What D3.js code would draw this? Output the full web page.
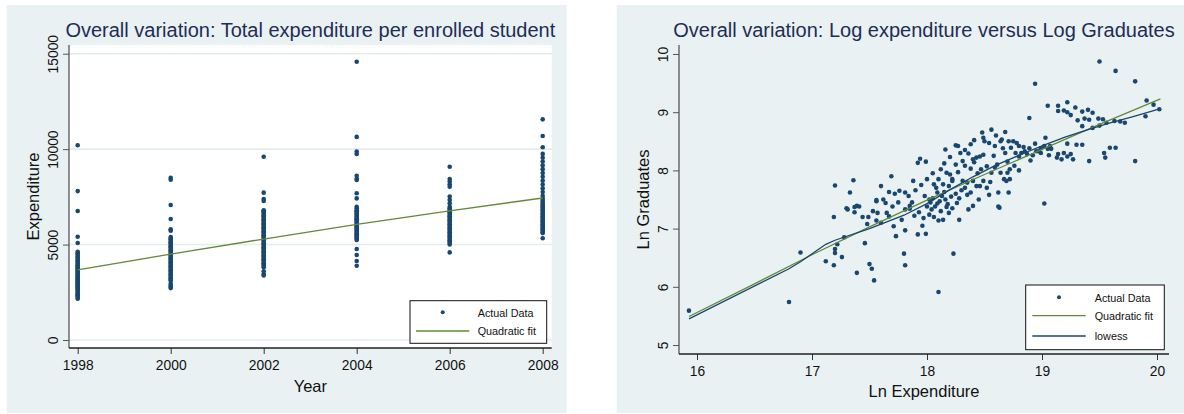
<!DOCTYPE html>
<html>
<head>
<meta charset="utf-8">
<script src="https://cdn.jsdelivr.net/npm/d3@7"></script>
<style>
  html, body { margin: 0; padding: 0; background: #ffffff; }
  svg { display: block; font-family: "Liberation Sans", Arial, sans-serif; }
</style>
</head>
<body>
<svg id="chart" width="1184" height="414"></svg>
<script>
// ---------- Panel 1: expenditure per enrolled student by year ----------
const years = [1998, 2000, 2002, 2004, 2006, 2008];
const yTicksSpend = [0, 5000, 10000, 15000];

const spend1998 = [10200, 7800, 6760, 5410, 5080, 4620, 4550, 4480, 4400, 4330, 4250, 4180, 4100, 4050, 3980,
  3920, 3860, 3800, 3740, 3690, 3640, 3580, 3520, 3470, 3420, 3370, 3320, 3270, 3220, 3170, 3120, 3070, 3020,
  2970, 2920, 2870, 2820, 2760, 2700, 2640, 2580, 2520, 2460, 2400, 2340, 2280, 2220, 2160];
const spend2000 = [8500, 8400, 7070, 6340, 5800, 5720, 5400, 5330, 5260, 5190, 5120, 5050, 4980, 4910, 4840,
  4770, 4700, 4630, 4560, 4490, 4420, 4350, 4280, 4210, 4140, 4070, 4000, 3930, 3860, 3790, 3720, 3650, 3580,
  3510, 3440, 3370, 3300, 3230, 3160, 3100, 2950, 2850, 2780, 2720];
const spend2002 = [9600, 7720, 7390, 7280, 6800, 6750, 6680, 6610, 6540, 6470, 6400, 6330, 6260, 6190, 6120,
  6050, 5980, 5910, 5840, 5770, 5700, 5630, 5560, 5490, 5420, 5350, 5280, 5210, 5140, 5070, 5000, 4930, 4860,
  4790, 4720, 4650, 4580, 4510, 4440, 4370, 4300, 4230, 4160, 4090, 4020, 3950, 3880, 3810, 3600, 3450, 3380];
const spend2004 = [14580, 10640, 9870, 9750, 8600, 8450, 8380, 7690, 7420, 6980, 6900, 6800, 6740, 6680, 6620,
  6560, 6500, 6440, 6380, 6320, 6260, 6200, 6140, 6080, 6020, 5960, 5900, 5840, 5780, 5720, 5660, 5600, 5540,
  5480, 5420, 5360, 5300, 5240, 4770, 4450, 4140, 3890];
const spend2006 = [9080, 8430, 8300, 8160, 8030, 7520, 7340, 7160, 6980, 6900, 6830,
  6760, 6690, 6620, 6550, 6480, 6410, 6340, 6270, 6200, 6130, 6060, 5990, 5920, 5850, 5780, 5710, 5640, 5570,
  5500, 5430, 5360, 5290, 5220, 5150, 5080, 5000, 4590];
const spend2008 = [11560, 10690, 10100, 9750, 9550, 9350, 9150, 8950, 8750, 8550, 8350, 8150, 7950, 7750,
  7550, 7400, 7300, 7200, 7120, 7050, 6980, 6910, 6840, 6770, 6700, 6630, 6560,
  6490, 6420, 6350, 6280, 6210, 6140, 6070, 6000, 5930, 5860, 5790, 5720, 5650, 5600, 5330];
const spendByYear = [spend1998, spend2000, spend2002, spend2004, spend2006, spend2008];

// Quadratic fit evaluated at each survey year
const spendFit = [3670, 4500, 5290, 6060, 6770, 7440];

// ---------- Panel 2: log expenditure vs log graduates ----------
const yTicksGrad = [5, 6, 7, 8, 9, 10];
const xTicksExp = [16, 17, 18, 19, 20];

const lnExpenditure = [15.93, 16.80, 16.90, 17.12, 17.19, 17.20, 17.20, 17.22, 17.26, 17.28, 17.19, 17.31, 17.37,
  17.41, 17.37, 17.39, 17.46, 17.50, 17.52, 17.54, 17.48, 17.49, 17.56, 17.57, 17.56, 17.60, 17.65, 17.67, 17.71,
  17.73, 17.78, 17.81, 17.85, 17.80, 17.81, 17.81, 17.92, 17.96, 17.99, 18.00, 18.04, 18.07, 18.09, 18.10, 18.23,
  18.10, 18.14, 18.19, 18.22, 18.28, 18.36, 18.40, 18.62, 19.02, 17.20, 17.33, 17.36, 17.39, 17.30, 17.56, 17.60,
  17.62, 17.67, 17.72, 17.76, 17.81, 17.69, 17.84, 17.87, 17.85, 17.92, 17.94, 17.99, 17.98, 18.02, 18.09, 18.13,
  18.15, 18.06, 18.08, 18.14, 18.19, 18.22, 18.16, 18.20, 18.25, 18.27, 18.31, 18.29, 18.17, 18.20, 18.22, 18.27,
  18.31, 18.35, 18.40, 18.43, 18.46, 18.49, 18.36, 18.40, 18.41, 18.43, 18.46, 18.49, 18.41, 18.49, 18.50, 18.54,
  18.56, 18.59, 18.64, 18.65, 18.52, 18.56, 18.59, 18.61, 18.64, 18.67, 18.69, 18.72, 18.70, 18.72, 18.62, 18.71,
  18.52, 18.54, 18.63, 18.71, 18.75, 18.78, 18.73, 18.77, 18.80, 18.82, 18.85, 18.87, 18.90, 18.92, 18.95, 18.97,
  18.99, 19.02, 19.03, 19.05, 19.06, 19.07, 19.08, 18.89, 18.94, 18.80, 18.84, 18.89, 18.94, 18.99, 19.13, 19.14,
  19.17, 19.19, 19.22, 19.25, 19.27, 19.22, 19.30, 19.35, 19.05, 19.14, 19.22, 19.14, 19.19, 19.22, 19.29, 19.35,
  19.40, 19.44, 19.25, 19.31, 19.37, 19.41, 19.49, 19.53, 19.56, 19.63, 19.68, 19.72, 19.35, 19.44, 19.50, 19.59,
  19.64, 19.81, 19.41, 19.54, 19.55, 19.50, 19.64, 19.81, 19.91, 19.97, 20.02, 19.90,
  18.03, 18.05, 18.11, 18.16, 18.18, 18.21, 18.25, 18.28, 18.30, 18.33, 18.35, 18.38, 18.44, 18.47, 18.38, 18.33,
  18.25, 18.12, 18.05, 18.00, 17.95, 17.90, 17.88, 17.75, 17.70, 17.64, 17.93, 17.89, 17.97, 18.02, 18.06, 18.12,
  18.17, 18.26, 18.45, 18.55, 18.58, 18.68, 18.70, 18.76, 18.80, 18.66, 18.60, 18.68, 18.48, 18.38, 18.10, 18.15,
  18.33, 17.53, 17.44];
const lnGraduates = [5.59, 5.74, 6.59, 6.44, 6.37, 6.65, 6.58, 6.73, 6.51, 6.85, 7.20, 7.33, 7.28,
  7.38, 7.37, 6.24, 6.75, 6.39, 6.31, 6.11, 7.08, 7.20, 7.14, 7.27, 7.47, 7.10, 7.27, 7.21, 7.04,
  6.87, 7.15, 7.33, 7.34, 6.57, 6.37, 6.97, 6.90, 7.05, 6.91, 7.38, 7.33, 7.38, 7.43, 5.91, 6.57,
  7.14, 7.15, 7.27, 7.35, 7.15, 7.33, 7.39, 7.38, 7.43, 7.74, 7.62, 7.83, 7.39, 7.35, 7.49, 7.73,
  7.50, 7.63, 7.60, 7.65, 7.62, 7.90, 7.56, 7.45, 7.39, 8.13, 8.20, 8.15, 7.56, 7.50, 7.62, 7.56,
  7.63, 7.76, 7.70, 7.76, 7.73, 7.82, 8.36, 8.23, 8.43, 8.42, 8.16, 8.30, 7.96, 7.93, 7.85, 7.97,
  7.82, 7.79, 7.82, 7.73, 7.73, 7.82, 8.29, 8.19, 8.14, 8.22, 8.24, 8.27, 8.52, 8.56, 8.50, 8.47,
  8.70, 8.42, 8.50, 8.53, 8.07, 7.96, 8.05, 8.10, 7.96, 7.85, 7.82, 7.85, 7.96, 8.02, 7.62, 7.62,
  7.70, 7.58, 7.36, 8.50, 8.50, 8.47, 8.39, 8.30, 8.24, 8.30, 8.33, 8.28, 8.17, 8.26, 8.33, 8.33,
  8.30, 8.42, 8.56, 8.37, 8.26, 8.42, 8.37, 8.90, 9.49, 8.42, 8.40, 8.38, 8.46, 8.38, 8.22, 8.28,
  8.19, 8.30, 8.24, 8.28, 8.19, 8.46, 8.44, 8.44, 9.11, 9.11, 9.17, 9.02, 9.03, 9.00, 9.08, 9.01,
  9.04, 8.99, 8.95, 8.86, 8.89, 8.87, 8.89, 8.88, 8.82, 8.85, 8.84, 8.82, 8.76, 8.73, 8.77, 8.39,
  8.39, 8.16, 8.16, 8.30, 8.22, 9.87, 9.71, 9.53, 9.20, 9.13, 9.05, 8.93,
  7.45, 7.52, 7.47, 7.50, 7.42, 7.55, 7.60, 7.52, 7.66, 7.70, 7.58, 7.62, 7.95, 8.02, 8.03, 8.08,
  8.10, 8.02, 7.95, 7.85, 7.75, 7.66, 7.82, 7.45, 7.38, 7.44, 7.28, 7.22, 7.18, 7.24, 7.20, 7.30,
  7.37, 7.44, 7.50, 7.80, 8.25, 8.30, 8.15, 8.08, 8.00, 8.38, 8.60, 8.66, 8.65, 8.45, 7.85, 8.12,
  8.35, 7.30, 7.20];

// Quadratic fit and lowess smooth, sampled along log expenditure
const fitLnExp = [15.93, 16.5, 17.0, 17.5, 18.0, 18.5, 19.0, 19.5, 20.03];
const fitLnGrad = [5.49, 6.05, 6.55, 7.03, 7.49, 7.93, 8.36, 8.79, 9.23];
const lowessLnExp = [15.93, 16.8, 16.9, 17.12, 17.2, 17.5, 17.8, 18.0, 18.2, 18.4, 18.6, 18.8, 19.0, 19.2, 19.4, 19.6, 19.8, 20.03];
const lowessLnGrad = [5.45, 6.31, 6.43, 6.73, 6.80, 7.00, 7.23, 7.43, 7.67, 7.89, 8.09, 8.26, 8.42, 8.57, 8.70, 8.82, 8.93, 9.06];

// ---------- styling ----------
const BG = "#eaf1f3";
const NAVY = "#1a476f";
const GREEN = "#62893a";
const TITLE = "#1e2d55";

const svg = d3.select("#chart");

function drawPanel(cfg) {
  const g = svg.append("g");
  g.append("rect").attr("x", cfg.outer[0]).attr("y", cfg.outer[1])
    .attr("width", cfg.outer[2]).attr("height", cfg.outer[3]).attr("fill", BG);

  const [L, T, R, B] = cfg.plot;
  if (cfg.plotFill) {
    g.append("rect").attr("x", L).attr("y", T).attr("width", R - L).attr("height", B - T)
      .attr("fill", cfg.plotFill);
  }
  const x = d3.scaleLinear().domain(cfg.xDomain).range(cfg.xRange);
  const y = d3.scaleLinear().domain(cfg.yDomain).range(cfg.yRange);

  // horizontal grid
  if (cfg.grid) {
    g.append("g").selectAll("line").data(cfg.yTicks).join("line")
      .attr("x1", L).attr("x2", R).attr("y1", d => y(d)).attr("y2", d => y(d))
      .attr("stroke", "#e3ecef").attr("stroke-width", 1.6);
  }

  // title
  g.append("text").attr("x", (L + R) / 2).attr("y", 37).attr("text-anchor", "middle")
    .attr("fill", TITLE).attr("font-size", cfg.titleSize).text(cfg.title);

  // y axis
  const yAxis = g.append("g").attr("transform", `translate(${L},0)`)
    .call(d3.axisLeft(y).tickValues(cfg.yTicks).tickSize(6).tickSizeOuter(0).tickFormat(d3.format("d")));
  yAxis.select(".domain").remove();
  yAxis.selectAll(".tick line").attr("stroke", "#555");
  yAxis.selectAll(".tick text")
    .attr("transform", "rotate(-90)").attr("x", 0).attr("y", -11.3).attr("dy", 0)
    .attr("text-anchor", "middle").attr("fill", "#111").attr("font-size", 13.8)
    .attr("font-family", "Liberation Sans, Arial, sans-serif");
  g.append("line").attr("x1", L).attr("x2", L).attr("y1", T).attr("y2", B)
    .attr("stroke", "#555").attr("stroke-width", 1.3);

  // x axis
  const xAxis = g.append("g").attr("transform", `translate(0,${B})`)
    .call(d3.axisBottom(x).tickValues(cfg.xTicks).tickSize(6).tickSizeOuter(0).tickFormat(d3.format("d")));
  xAxis.select(".domain").remove();
  xAxis.selectAll(".tick line").attr("stroke", "#333");
  xAxis.selectAll(".tick text").attr("y", 22).attr("dy", 0).attr("fill", "#111")
    .attr("font-size", 13.8).attr("font-family", "Liberation Sans, Arial, sans-serif");
  g.append("line").attr("x1", L).attr("x2", R).attr("y1", B).attr("y2", B)
    .attr("stroke", "#222").attr("stroke-width", 1.3);

  // axis titles
  g.append("text").attr("transform", `translate(${cfg.yTitleX},${(T + B) / 2}) rotate(-90)`)
    .attr("text-anchor", "middle").attr("font-size", 16.5).attr("fill", "#111").text(cfg.yTitle);
  g.append("text").attr("x", (L + R) / 2).attr("y", cfg.xTitleY).attr("text-anchor", "middle")
    .attr("font-size", 16.5).attr("fill", "#111").text(cfg.xTitle);

  return { g, x, y };
}

// ----- left panel -----
const p1 = drawPanel({
  outer: [6.7, 5, 560, 408], plot: [69, 45, 551.7, 348], plotFill: "#ffffff", grid: true,
  xDomain: [1998, 2008], xRange: [77.7, 542.7], yDomain: [0, 15000], yRange: [340, 53.7],
  xTicks: years, yTicks: yTicksSpend,
  title: "Overall variation: Total expenditure per enrolled student", titleSize: 20,
  yTitle: "Expenditure", yTitleX: 38.5, xTitle: "Year", xTitleY: 392
});

const spendPoints = years.flatMap((yr, i) => spendByYear[i].map(v => ({ yr, v })));
p1.g.append("g").selectAll("circle").data(spendPoints).join("circle")
  .attr("cx", d => p1.x(d.yr)).attr("cy", d => p1.y(d.v)).attr("r", 2.3).attr("fill", NAVY);

p1.g.append("path").datum(years.map((yr, i) => [yr, spendFit[i]]))
  .attr("d", d3.line().x(d => p1.x(d[0])).y(d => p1.y(d[1])))
  .attr("fill", "none").attr("stroke", GREEN).attr("stroke-width", 1.3);

// ----- right panel -----
const p2 = drawPanel({
  outer: [616.7, 5, 567.3, 408], plot: [679, 45, 1169, 354], plotFill: null, grid: false,
  xDomain: [16, 20], xRange: [697, 1157], yDomain: [5, 10], yRange: [345, 54],
  xTicks: xTicksExp, yTicks: yTicksGrad,
  title: "Overall variation: Log expenditure versus Log Graduates", titleSize: 20,
  yTitle: "Ln Graduates", yTitleX: 649, xTitle: "Ln Expenditure", xTitleY: 397
});

p2.g.append("g").selectAll("circle").data(lnExpenditure.map((v, i) => [v, lnGraduates[i]])).join("circle")
  .attr("cx", d => p2.x(d[0])).attr("cy", d => p2.y(d[1])).attr("r", 2.3).attr("fill", NAVY);

const line2 = d3.line().x(d => p2.x(d[0])).y(d => p2.y(d[1]));
p2.g.append("path").datum(fitLnExp.map((v, i) => [v, fitLnGrad[i]])).attr("d", line2)
  .attr("fill", "none").attr("stroke", GREEN).attr("stroke-width", 1.3);
p2.g.append("path").datum(lowessLnExp.map((v, i) => [v, lowessLnGrad[i]])).attr("d", line2)
  .attr("fill", "none").attr("stroke", NAVY).attr("stroke-width", 1.3);

// ----- legends -----
function legend(box, items) {
  const [x0, y0, w, h] = box;
  const g = svg.append("g");
  g.append("rect").attr("x", x0).attr("y", y0).attr("width", w).attr("height", h)
    .attr("fill", "#ffffff").attr("stroke", "#111").attr("stroke-width", 1);
  items.forEach(it => {
    if (it.kind === "dot") {
      g.append("circle").attr("cx", it.sx).attr("cy", it.sy).attr("r", 2).attr("fill", NAVY);
    } else {
      g.append("line").attr("x1", it.sx).attr("x2", it.sx2).attr("y1", it.sy).attr("y2", it.sy)
        .attr("stroke", it.color).attr("stroke-width", 1.3);
    }
    g.append("text").attr("x", it.tx).attr("y", it.ty).attr("font-size", 10.8).attr("fill", "#111").text(it.label);
  });
}

legend([410, 300.7, 136.7, 42.6], [
  { kind: "dot", sx: 442.7, sy: 312.3, tx: 477.7, ty: 316.5, label: "Actual Data" },
  { kind: "line", sx: 416, sx2: 469.3, sy: 331, color: GREEN, tx: 477.7, ty: 335, label: "Quadratic fit" }
]);
legend([1025.7, 285, 138.6, 64.7], [
  { kind: "dot", sx: 1059, sy: 297.3, tx: 1094.7, ty: 301.5, label: "Actual Data" },
  { kind: "line", sx: 1032.3, sx2: 1085.7, sy: 315.7, color: GREEN, tx: 1094.7, ty: 320, label: "Quadratic fit" },
  { kind: "line", sx: 1032.3, sx2: 1085.7, sy: 336, color: NAVY, tx: 1094.7, ty: 340, label: "lowess" }
]);
</script>
</body>
</html>
